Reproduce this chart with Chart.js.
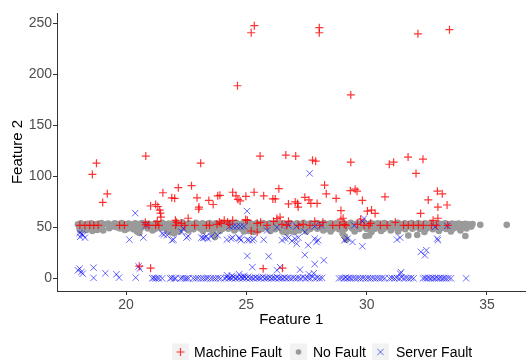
<!DOCTYPE html>
<html>
<head>
<meta charset="utf-8">
<script src="https://cdn.jsdelivr.net/npm/chart.js@4.4.1/dist/chart.umd.min.js"></script>
<style>
html,body{margin:0;padding:0;background:#fff;}
#wrap{width:531px;height:360px;}
</style>
</head>
<body>
<div id="wrap"><canvas id="c" width="531" height="360"></canvas></div>
<script>
// ---- Data ----
const seriesNames = ["Machine Fault", "No Fault", "Server Fault"];
const xTicks = [20, 25, 30, 35];
const yTicks = [0, 50, 100, 150, 200, 250];

const machineFault = [
  [25.2,241],[25.33,248],[28.03,246],[28.03,241],[32.13,240],[33.44,244],[24.63,189],[29.34,180],
  [18.6,102],[18.77,113],[20.82,120],[23.1,113],[25.57,120],[26.64,121],[27.05,120],[27.75,116],[27.88,115],
  [29.34,114],[30.94,112],[31.12,114],[31.72,119],[32.34,117],[32.05,103],
  [19.22,83],[19.03,74.5],[21.53,84],[21.9,79],[22.02,78.5],[21.02,71],[21.23,72.5],[21.32,70.5],[21.4,67],
  [21.43,64],[21.45,60],[21.3,56],[20.8,55],[22.05,57],
  [22.17,89],[22.72,91],[22.95,79],[23.02,68],[23.03,70],[23.44,76.5],[23.62,72.5],[23.81,81],[23.9,81.5],
  [24.43,84.5],[24.57,81],[24.65,77.5],[24.74,76],[24.98,80.5],[25.32,84.5],[25.72,81],[26.1,78],[26.2,78],[26.35,88],
  [26.75,73],[27.03,75],[27.13,73.5],[27.15,70],[27.43,79.5],[27.6,77],[27.68,73.5],[27.94,73.5],
  [28.25,91.5],[28.32,83],[28.73,78.4],[28.93,66.5],[29.02,59],[29.32,86],[29.52,87.5],[29.6,85.6],[29.82,76.5],
  [30.03,66],[30.2,67],[30.35,63.7],[30.76,80],
  [32.94,85.6],[33.14,83],[32.56,77],[32.96,70],[33.34,72],[32.24,63.7],[32.76,57],[32.96,59],
  [22.58,59],[22.1,55],[22.3,54],[23.78,53],[23.88,55.4],[24.08,57],[24.29,53],[24.43,57],[24.97,57.7],[25.04,57],
  [25.45,54],[25.59,55],[26.13,56],[26.27,58.7],[26.4,60],[23.95,54],[24.22,55.4],
  [25.2,46.5],[25.45,45.5],
  [18.08,52],[18.29,52],[18.49,52],[18.66,52],[18.84,52],[19.73,52],[19.93,52],[20.82,52.5],[20.95,52],[21.23,52],
  [21.36,52],[22.06,52],[22.44,52],[22.85,52],[23.34,52],[23.47,52],[25.86,52],[26.48,53],[26.68,52],[26.75,56],
  [27.16,52],[27.36,53],[27.64,52],[27.84,56],[28.05,52],[28.18,55],[28.59,52],[28.87,52],[28.93,58],[29.07,53],
  [29.14,52],[29.62,53],[29.75,58],[29.89,52],[30.09,52],[30.16,54],[30.57,52],[30.85,52],[31.19,55],[31.53,52],
  [31.73,52],[31.94,52],[32.15,52],[32.35,52],[32.69,52],[32.9,52],[33.37,52],
  [20.55,12],[21.02,10],[25.7,9.5],[26.5,10]
];

const noFault = [
  [18.0,53],[18.12,54],[18.27,52.5],[18.4,53.5],[18.55,54],[18.68,52.8],[18.83,53.6],[18.97,54.2],[19.1,53],[19.25,53.8],
  [19.4,52.6],[19.53,54],[19.68,53.2],[19.82,54.3],[19.96,53],[20.1,53.7],[20.25,52.8],[20.38,54],[20.52,53.2],[20.66,54.4],
  [20.8,53],[20.93,53.8],[21.08,52.7],[21.22,54],[21.36,53.3],[21.5,54.5],[21.64,53],[21.78,53.9],[21.92,52.9],[22.06,54.2],
  [22.2,53.2],[22.34,55],[22.48,53],[22.62,54],[22.76,53.3],[22.9,54.6],[23.04,53],[23.18,54],[23.32,53.1],[23.46,54.3],
  [23.6,53.4],[23.74,54.1],[23.88,53],[24.02,54.4],[24.16,53.2],[24.3,54],[24.44,53.5],[24.58,54.6],[24.72,53],[24.86,54.1],
  [25.0,53.3],[25.14,54.5],[25.28,53],[25.42,54],[25.56,53.4],[25.7,54.3],[25.84,53],[25.98,54],[26.12,53.5],[26.26,54.6],
  [26.4,53.1],[26.54,54],[26.68,53.2],[26.82,54.4],[26.96,53],[27.1,54.1],[27.24,53.3],[27.38,54.5],[27.52,53],[27.66,54],
  [27.8,53.4],[27.94,54.2],[28.08,53],[28.22,54.3],[28.36,53.2],[28.5,54],[28.64,53.5],[28.78,54.4],[28.92,53],[29.06,54.1],
  [29.2,53.3],[29.34,54.5],[29.48,53],[29.62,54],[29.76,53.4],[29.9,54.2],[30.04,53],[30.18,54.3],[30.32,53.2],[30.46,54],
  [30.6,53.5],[30.74,54.4],[30.88,53],[31.02,54.1],[31.16,53.3],[31.3,54.5],[31.44,53],[31.58,54],[31.72,53.4],[31.86,54.2],
  [32.0,53],[32.14,54.3],[32.28,53.2],[32.42,54],[32.56,53.5],[32.7,54.4],[32.84,53],[32.98,54.1],[33.12,53.3],[33.26,54],
  [33.4,53],[33.54,53.8],[33.68,53.2],[33.82,53.9],[33.96,53],[34.1,53.6],[34.25,53],[34.4,53.4],[34.72,52.5],[35.82,52.5],
  [18.05,50.5],[18.2,51],[18.35,49.5],[18.5,51],[18.65,50],[18.8,51.2],[18.95,50.3],[19.45,51],[19.6,50.2],[19.9,51],
  [20.2,50.5],[20.45,49],[20.7,51],[21.0,50.4],[21.3,51.2],[21.6,50.5],[21.85,49.8],[22.1,51],[22.4,50.6],[22.7,51.2],
  [23.0,50],[23.3,51],[23.55,50.4],[23.85,51.2],[24.1,50.2],[24.4,51],[24.65,50.5],[24.95,51.3],[25.2,50],[25.5,51],
  [25.8,50.4],[26.05,51.2],[26.35,50.6],[26.6,49.5],[26.9,51],[27.2,50.3],[27.5,51.2],[27.8,50.5],[28.1,51],[28.4,50.2],
  [28.7,51.1],[29.0,50.5],[29.3,51.2],[29.6,50],[29.9,51],[30.2,50.5],[30.5,51.3],[30.8,50.4],[31.1,51],[31.4,50.5],
  [31.7,51.2],[32.0,50.3],[32.3,51],[32.6,50.6],[32.9,51.2],[33.2,50.4],[33.5,51],[33.8,50.5],[34.1,51],[34.35,50.8],
  [18.15,48.5],[18.45,49],[18.7,48.2],[19.0,48.8],[19.3,49.2],[19.75,49],[20.05,48.6],[20.3,48.2],[20.6,48.8],[20.9,49],
  [21.2,48.5],[21.45,49.2],[21.7,48.4],[21.95,48],[22.25,48.6],[22.5,49],[22.8,48.3],[23.1,48.8],[23.4,48.5],[23.7,49],
  [24.0,48.4],[24.25,48.8],[24.55,48.2],[24.8,48.7],[25.05,48.5],[25.35,49],[25.65,48.4],[25.95,48.8],[26.2,48.3],[26.45,48.7],
  [26.75,48.2],[27.05,48.6],[27.35,49],[27.65,48.5],[27.95,48.8],[28.3,48.4],[28.6,48.8],[28.85,48.2],[29.1,48.6],[29.4,49],
  [29.7,48.5],[30.0,48.4],[30.35,48.8],[30.7,48.5],[31.05,49],[31.35,48.6],[31.6,48.2],[31.9,48.8],[32.2,48.5],[32.5,49],
  [32.75,48.3],[33.05,48.8],[33.3,48.5],[33.6,49],[33.85,48.6],[34.15,49],
  [18.1,47],[18.35,47.5],[18.6,46.5],[18.8,47.5],[19.05,47],[19.95,47.5],[20.45,46],[20.55,44.5],[21.1,47],[21.75,46.5],
  [21.85,45],[22.0,44],[22.2,46],[22.6,47],[23.2,46.5],[23.6,45],[23.66,42.5],[23.7,40.5],[23.9,46.5],[24.5,47],
  [24.9,46],[25.1,46.5],[25.3,45.5],[25.5,47],[26.0,46.5],[26.5,46],[26.65,45],[26.8,46.5],[27.0,45.5],[27.2,47],
  [27.5,46],[28.2,47],[28.5,46],[29.0,44],[29.1,41],[29.15,38],[29.5,46],[29.95,41.5],[30.1,42],[30.2,45.5],
  [30.6,46.5],[31.0,47],[31.3,46],[31.73,42],[32.1,42.5],[32.4,45.5],[33.0,46.5],[33.5,46],[34.1,41.6],[33.9,47]
];

const serverFault = [
  [20.38,64],[25.03,66],[27.63,103],[29.89,58.7],[29.82,56],[32.85,50.5],[33.35,51.5],
  [20.82,52],[24.3,51],[24.45,51],[24.6,51],[24.75,51],[24.9,51],[26.75,52],[27.09,51],[27.84,51],[28.1,52],[29.48,52],[26.27,50],[22.38,49],
  [18.07,44.5],[18.16,43.5],[18.22,42.3],[18.09,40.7],[18.29,40],[20.14,38],[20.72,40],[21.5,44],[21.57,43],[21.71,42.3],
  [21.91,37.4],[21.97,38],[22.31,45.6],[22.51,40],[22.58,41.3],[23.13,40],[23.2,39.5],[23.27,40],[23.34,41.3],[23.4,39],
  [23.54,41],[23.81,42.3],[24.19,38],[24.36,39],[24.43,40],[24.7,40],[24.77,37.4],[24.72,39],[25.04,38],[25.11,37.4],
  [25.25,37.4],[25.31,39],[25.72,38],[25.86,47],[26.61,39],[26.48,37.4],[26.75,40],[26.89,36.7],[27.02,39],[27.16,40],
  [27.09,34],[27.43,45.6],[27.57,32.5],[27.84,39],[27.91,35.7],[27.98,37.4],[29.07,37.4],[29.21,39],[29.41,35.7],[29.82,31.5],
  [31.26,38],[31.39,40],[32.93,39],[32.96,37.4],
  [32.25,26],[32.48,27.6],[32.42,22.6],[25.04,22],[25.93,21.6],[27.43,23],[27.84,14],[28.22,17.7],[25.25,11],[26.4,11],
  [26.27,8],[27.23,8.5],[20.52,11.8],[20.57,9.5],[31.43,6],[31.39,4.6],
  [18.07,9.5],[18.0,7.9],[18.14,6.2],[18.2,4.6],[18.65,10.5],[18.65,0.5],[19.14,5],[19.6,4],[19.71,0.7],[20.4,0.7],
  [24.2,3],[24.4,2.5],[24.7,4],[24.9,2.5],[27.6,4],[27.8,5],
  [21.09,0],[21.15,0.5],[21.22,0],[21.3,0.3],[21.37,0],[21.5,0],[21.84,0],[21.9,0.5],[22.0,0],[22.06,0],
  [22.27,0],[22.35,0.4],[22.45,0],[22.52,0],[22.6,0],[22.79,0],[22.9,0],[23.0,0.3],[23.12,0],[23.22,0],
  [23.32,0],[23.4,0.5],[23.52,0],[23.62,0],[23.72,0],[23.83,0.4],[23.93,0],[24.1,0],[24.18,1],[24.25,0],
  [24.32,0.5],[24.4,0],[24.47,1.5],[24.55,0],[24.62,0.6],[24.7,0],[24.78,1.2],[24.85,0],[24.92,0.8],[25.0,0],
  [25.07,1.5],[25.14,0],[25.22,0.5],[25.3,0],[25.38,1],[25.45,0],[25.53,0.6],[25.6,0],[25.68,1.5],[25.75,0],
  [25.83,0.5],[25.9,0],[25.98,1],[26.05,0],[26.13,0.5],[26.2,0],[26.28,1.2],[26.35,0],[26.42,0.4],[26.5,0],
  [26.58,0.8],[26.66,0],[26.75,0.5],[26.85,0],[26.95,0.6],[27.05,0],[27.15,0.4],[27.25,0],[27.35,1],[27.45,0],
  [27.55,0.5],[27.65,0],[27.75,1.5],[27.85,0],[27.95,0.6],[28.05,0],[28.15,0.4],
  [28.85,0],[28.95,0.4],[29.05,0],[29.12,0.8],[29.2,0],[29.28,0.5],[29.35,0],[29.45,0.4],[29.55,0],[29.65,0.3],
  [29.75,0],[29.85,0.4],[29.95,0],[30.05,0.3],[30.15,0],[30.25,0.4],[30.35,0],[30.45,0.3],[30.55,0],[30.65,0.4],
  [30.75,0],[30.95,0],[31.05,0.4],[31.15,0],[31.25,0.5],[31.35,0],[31.45,1],[31.55,0],[31.65,0.4],[31.75,0],
  [31.85,0.5],[31.95,0],
  [32.34,0],[32.42,0.4],[32.5,0],[32.58,0.5],[32.66,0],[32.74,0.4],[32.82,0],[32.9,0.5],[32.98,0],[33.06,0.4],
  [33.14,0],[33.22,0.4],[33.3,0],[33.4,0.3],[33.5,0],[34.13,0]
];

// ---- Styles ----
const RED = 'rgba(255,0,0,0.8)';
const GREY = '#9A9A9A';
const BLUE = 'rgba(0,0,255,0.6)';
const FONT = "'Liberation Sans', Arial, sans-serif";

const toPts = arr => arr.map(p => ({x: p[0], y: p[1]}));

function drawSym(ctx, kind, x, y) {
  ctx.save();
  if (kind === 0) {
    ctx.strokeStyle = RED; ctx.lineWidth = 1.2;
    ctx.beginPath(); ctx.moveTo(x - 4, y); ctx.lineTo(x + 4, y);
    ctx.moveTo(x, y - 4); ctx.lineTo(x, y + 4); ctx.stroke();
  } else if (kind === 1) {
    ctx.fillStyle = GREY; ctx.beginPath(); ctx.arc(x, y, 2.8, 0, Math.PI * 2); ctx.fill();
  } else {
    ctx.strokeStyle = BLUE; ctx.lineWidth = 1;
    ctx.beginPath(); ctx.moveTo(x - 3.2, y - 3.2); ctx.lineTo(x + 3.2, y + 3.2);
    ctx.moveTo(x + 3.2, y - 3.2); ctx.lineTo(x - 3.2, y + 3.2); ctx.stroke();
  }
  ctx.restore();
}

const legendPlugin = {
  id: 'ggLegend',
  afterDraw(chart) {
    const ctx = chart.ctx;
    const items = [
      {box: 172, text: 194},
      {box: 290, text: 313},
      {box: 372, text: 396}
    ];
    const cy = 352;
    ctx.save();
    items.forEach((it, i) => {
      ctx.fillStyle = '#F2F2F2';
      ctx.fillRect(it.box, cy - 8.5, 17, 17);
      drawSym(ctx, i, it.box + 8.5, cy);
      ctx.fillStyle = '#000';
      ctx.font = '14px ' + FONT;
      ctx.textBaseline = 'middle';
      ctx.textAlign = 'left';
      ctx.fillText(seriesNames[i], it.text, cy + 1);
    });
    ctx.restore();
  }
};

new Chart(document.getElementById('c'), {
  type: 'scatter',
  data: {
    datasets: [
      {label: seriesNames[0], data: toPts(machineFault), pointStyle: 'cross', pointRadius: 4,
       borderColor: RED, backgroundColor: RED, borderWidth: 1.2},
      {label: seriesNames[2], data: toPts(serverFault), pointStyle: 'crossRot', pointRadius: 4.5,
       borderColor: BLUE, backgroundColor: BLUE, borderWidth: 1},
      {label: seriesNames[1], data: toPts(noFault), pointStyle: 'circle', pointRadius: 3.3,
       borderWidth: 0, backgroundColor: GREY, borderColor: GREY}
    ]
  },
  options: {
    responsive: false,
    animation: false,
    events: [],
    layout: {padding: {top: 13, right: 0, left: 0, bottom: 0}},
    plugins: {legend: {display: false}, tooltip: {enabled: false}},
    scales: {
      x: {
        type: 'linear', min: 17.13, max: 36.6,
        afterBuildTicks: s => { s.ticks = xTicks.map(v => ({value: v})); },
        afterFit: s => { s.height = 69; },
        border: {display: true, color: '#333333', width: 1},
        grid: {display: true, drawOnChartArea: false, drawTicks: true, tickLength: 4, color: '#333333'},
        ticks: {font: {size: 14, family: FONT}, color: '#4D4D4D', padding: 2, maxRotation: 0},
        title: {display: true, text: 'Feature 1', color: '#000', font: {size: 15, family: FONT}, padding: {top: 0, bottom: 31}}
      },
      y: {
        type: 'linear', min: -12.4, max: 260.4,
        afterBuildTicks: s => { s.ticks = yTicks.map(v => ({value: v})); },
        afterFit: s => { s.width = 57; },
        border: {display: true, color: '#333333', width: 1},
        grid: {display: true, drawOnChartArea: false, drawTicks: true, tickLength: 4, color: '#333333'},
        ticks: {font: {size: 14, family: FONT}, color: '#4D4D4D', padding: 1},
        title: {display: true, text: 'Feature 2', color: '#000', font: {size: 15, family: FONT}, padding: {top: 9, bottom: 0}}
      }
    }
  },
  plugins: [legendPlugin]
});
</script>
</body>
</html>
